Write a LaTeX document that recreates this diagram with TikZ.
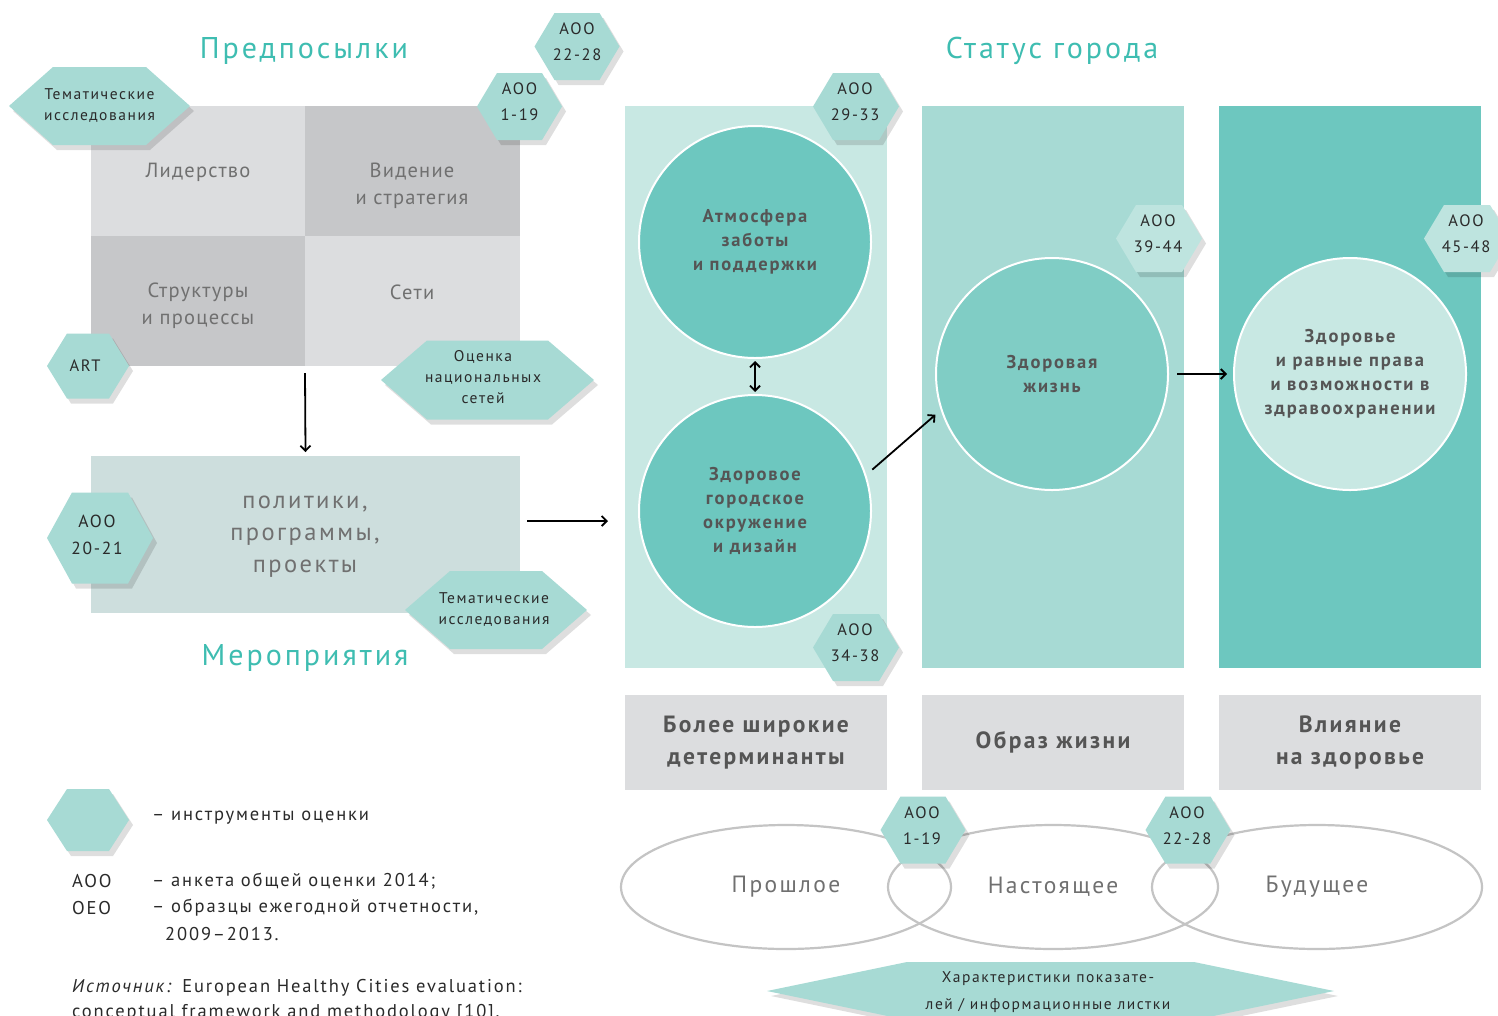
\documentclass[tikz,border=0pt]{standalone}
\usepackage{fontspec}
\setmainfont{PT Sans}[LetterSpace=10]
\newfontfamily\cellfont{PT Sans}[LetterSpace=6]
\usetikzlibrary{calc,arrows.meta,shapes.geometric}
\definecolor{ttl}{HTML}{3EBDB1}
\definecolor{hexc}{HTML}{A7DAD4}
\definecolor{hexl}{HTML}{BEE4DF}
\definecolor{cellL}{HTML}{DCDDDF}
\definecolor{cellD}{HTML}{C6C7C9}
\definecolor{polc}{HTML}{CDDEDD}
\definecolor{colA}{HTML}{C8E8E3}
\definecolor{colB}{HTML}{A7DAD4}
\definecolor{colC}{HTML}{6DC7BF}
\definecolor{circB}{HTML}{80CDC5}
\definecolor{txtg}{HTML}{707070}
\definecolor{txtd}{HTML}{555555}
\definecolor{txtk}{HTML}{2A2A2A}
\definecolor{ellc}{HTML}{C4C4C4}
\tikzset{
  x=1pt,y=-1pt,
  title/.style={text=ttl,font=\fontsize{30}{34}\selectfont},
  cell/.style={rectangle,inner sep=0,outer sep=0},
  celltext/.style={text=txtg,align=center,font=\cellfont\fontsize{20.5}{27}\selectfont},
  hextext/.style={text=txtk,align=center,inner sep=0,font=\fontsize{16.5}{26}\selectfont},
  hexsmall/.style={text=txtk,align=center,inner sep=0,font=\fontsize{15.5}{21}\selectfont},
  hexshadow/.style={fill=black,opacity=0.13},
  circ/.style={circle,minimum size=232,draw=white,line width=2,inner sep=0,
    text=txtd,align=center,font=\bfseries\fontsize{18.5}{24}\selectfont},
  colbox/.style={rectangle,inner sep=0,outer sep=0,minimum width=262,minimum height=562},
  labbox/.style={rectangle,inner sep=0,outer sep=0,minimum width=262,minimum height=95,fill=cellL,
    text=txtd,align=center,font=\bfseries\fontsize{23.5}{32}\selectfont},
  ell/.style={ellipse,draw=ellc,line width=2.2,minimum width=330,minimum height=124,inner sep=0,
    text=txtg,font=\fontsize{23.5}{28}\selectfont},
  legtext/.style={text=txtk,anchor=west,inner sep=0,font=\fontsize{18.5}{26}\selectfont},
  arr/.style={draw=black,line width=1.8,-{Straight Barb[length=5,width=10]}},
  darr/.style={draw=black,line width=1.8,{Straight Barb[length=5,width=10]}-{Straight Barb[length=5,width=10]}}
}
% #1 fill, #2 cx, #3 cy, #4 half width, #5 half height, #6 inset
\newcommand{\hexpoly}[6]{%
  \fill[hexshadow] ({#2-#4+4},{#3+5}) -- ({#2-#4+#6+4},{#3-#5+5}) -- ({#2+#4-#6+4},{#3-#5+5}) --
    ({#2+#4+4},{#3+5}) -- ({#2+#4-#6+4},{#3+#5+5}) -- ({#2-#4+#6+4},{#3+#5+5}) -- cycle;
  \fill[#1] ({#2-#4},{#3}) -- ({#2-#4+#6},{#3-#5}) -- ({#2+#4-#6},{#3-#5}) --
    ({#2+#4},{#3}) -- ({#2+#4-#6},{#3+#5}) -- ({#2-#4+#6},{#3+#5}) -- cycle;
}
\begin{document}
\begin{tikzpicture}
\useasboundingbox[fill=white] (0,0) rectangle (1498,1015);

% ---- titles
\node[title] (tpre) at (304,51) {Предпосылки};
\node[title] (tstat) at (1052,51) {Статус города};
\node[title] (tmer) at (305,658) {Мероприятия};

% ---- grid
\node[cell,fill=cellL,minimum width=214,minimum height=130] (cLead) at (198,171) {};
\node[cell,fill=cellD,minimum width=215,minimum height=130] (cVis) at (412.5,171) {};
\node[cell,fill=cellD,minimum width=214,minimum height=130] (cStr) at (198,301) {};
\node[cell,fill=cellL,minimum width=215,minimum height=130] (cNet) at (412.5,301) {};
\node[celltext] (tLead) at (198,172) {Лидерство};
\node[celltext] (tVis) at (412,186) {Видение\\и стратегия};
\node[celltext] (tStr) at (198,306) {Структуры\\и процессы};
\node[celltext] (tNet) at (412,292) {Сети};

% ---- policy box
\node[cell,fill=polc,minimum width=429,minimum height=157] (pol) at (305.5,534.5) {};
\node[text=txtg,align=center,font=\fontsize{24.5}{32}\selectfont] (tpol) at (305,537) {политики,\\программы,\\проекты};

% ---- hexagons left
\hexpoly{hexc}{99.5}{106}{90.5}{39}{44}
\node[hexsmall] (hTemA) at (99.5,106) {Тематические\\исследования};
\hexpoly{hexc}{577}{46.5}{42.5}{33.5}{20}
\node[hextext] (hAa) at (577,42) {АОО\\22-28};
\hexpoly{hexc}{519.5}{106.5}{42.5}{33.5}{20}
\node[hextext] (hAb) at (519.5,102) {АОО\\1-19};
\hexpoly{hexc}{88}{366}{41}{32.5}{20}
\node[hextext] (hART) at (85,366) {ART};
\hexpoly{hexc}{487.5}{380}{106.5}{39.5}{46}
\node[hexsmall] (hNat) at (483,377) {Оценка\\национальных\\сетей};
\hexpoly{hexc}{100}{538}{53}{45.5}{25}
\node[hextext,font=\fontsize{17.5}{27}\selectfont] (hAc) at (97,535) {АОО\\20-21};
\hexpoly{hexc}{496}{610}{91}{39}{45}
\node[hexsmall] (hTemB) at (494,610) {Тематические\\исследования};

% ---- arrows left
\draw[arr] ([yshift=-7]cStr.south east) -- ([yshift=4]pol.north);
\coordinate (polout) at (527,521);
\coordinate (colin) at (608,521);
\draw[arr] (polout) -- (colin);

% ---- columns
\node[colbox,fill=colA] (col1) at (756,387) {};
\node[colbox,fill=colB] (col2) at (1053,387) {};
\node[colbox,fill=colC] (col3) at (1350,387) {};

\node[circ,fill=colC] (c1) at (755,242) {Атмосфера\\заботы\\и поддержки};
\node[circ,fill=colC] (c2) at (755,511) {Здоровое\\городское\\окружение\\и дизайн};
\node[circ,fill=circB] (c3) at (1052,374) {Здоровая\\жизнь};
\node[circ,fill=colA] (c4) at (1350,374) {Здоровье\\и равные права\\и возможности в\\здравоохранении};

\draw[darr] ([yshift=-2]c1.south) -- ([yshift=2]c2.north);
\draw[arr,shorten <=8,shorten >=7] (c2.18) -- (c3.198);
\draw[arr,shorten <=8,shorten >=6] (c3.east) -- (c4.west);

\hexpoly{hexc}{856}{106.5}{43}{33.5}{20}
\node[hextext] (hAd) at (855,102) {АОО\\29-33};
\hexpoly{hexl}{1159}{238.5}{43}{33.5}{20}
\node[hextext] (hAe) at (1158,234) {АОО\\39-44};
\hexpoly{hexl}{1467}{238.5}{43}{33.5}{20}
\node[hextext] (hAf) at (1466,234) {АОО\\45-48};
\hexpoly{hexc}{856}{647.5}{43}{33.5}{20}
\node[hextext] (hAg) at (855,643) {АОО\\34-38};

% ---- label boxes
\node[labbox] (l1) at (756,742.5) {Более широкие\\детерминанты};
\node[labbox] (l2) at (1053,742.5) {Образ жизни};
\node[labbox] (l3) at (1350,742.5) {Влияние\\на здоровье};

% ---- ellipses
\node[ell] (past) at (786,887) {Прошлое};
\node[ell] (pres) at (1053,887) {Настоящее};
\node[ell] (fut) at (1317,887) {Будущее};
\hexpoly{hexc}{923}{830}{42.5}{33.5}{20}
\node[hextext] (hAh) at (922,826) {АОО\\1-19};
\hexpoly{hexc}{1188}{830}{42.5}{33.5}{20}
\node[hextext] (hAi) at (1187,826) {АОО\\22-28};

\hexpoly{hexc}{1050.5}{991}{283.5}{29}{140}
\node[hexsmall,font=\fontsize{15.5}{27}\selectfont] (hChar) at (1048,992) {Характеристики показате-\\лей / информационные листки};

% ---- legend
\hexpoly{hexc}{88}{820}{41}{31}{20}
\node[legtext] (lg1) at (152,818) {– инструменты оценки};
\node[legtext] (lg2) at (72,881) {АОО};
\node[legtext] (lg3) at (72,908) {ОЕО};
\node[legtext] (lg4) at (152,881) {– анкета общей оценки 2014;};
\node[legtext] (lg5) at (152,908) {– образцы ежегодной отчетности,};
\node[legtext] (lg6) at (165,934) {2009–2013.};
\node[legtext] (lg7) at (72,988) {\textit{Источник:} European Healthy Cities evaluation:};
\node[legtext] (lg8) at (72,1013) {conceptual framework and methodology [10].};
\end{tikzpicture}
\end{document}
